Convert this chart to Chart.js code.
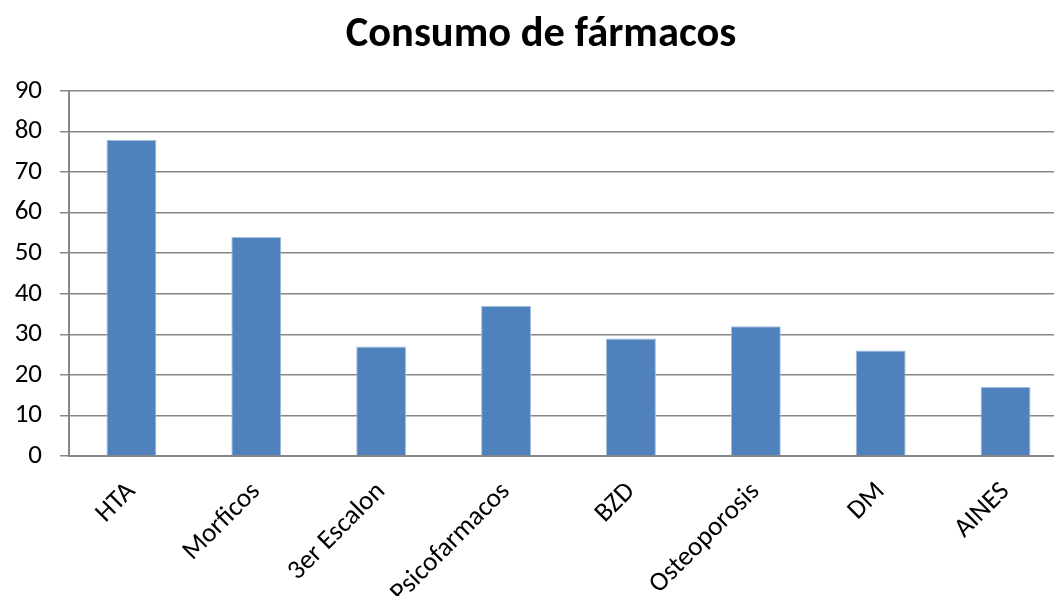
<!DOCTYPE html>
<html>
<head>
<meta charset="utf-8">
<script src="https://cdn.jsdelivr.net/npm/chart.js@4/dist/chart.umd.min.js"></script>
<style>
  html, body { margin: 0; padding: 0; background: #fff; overflow: hidden; }
  #chart { display: block; }
</style>
</head>
<body>
<!-- canvas is a little wider than the window: the plot runs past the right edge, as in the original crop -->
<canvas id="chart" width="1068" height="596"></canvas>
<script>
// data
const categories = ['HTA', 'Morficos', '3er Escalon', 'Psicofarmacos', 'BZD', 'Osteoporosis', 'DM', 'AINES'];
const consumo = [78, 54, 27, 37, 29, 32, 26, 17];
const yTicks = [0, 10, 20, 30, 40, 50, 60, 70, 80, 90];

const gridGrey = '#868686';
const font = "Carlito, 'Open Sans', 'Liberation Sans', sans-serif";

const chart = new Chart(document.getElementById('chart'), {
    type: 'bar',
    data: {
        labels: categories,
        datasets: [
            {
                label: 'Consumo',
                data: consumo,
                backgroundColor: '#4f81bd',
                borderColor: '#a7bfde',
                borderWidth: { top: 1, left: 1, right: 1, bottom: 0 },
                categoryPercentage: 1,
                barPercentage: 0.4,
            }
        ]
    },
    options: {
        responsive: false,
        animation: false,
        layout: {
            padding: { left: 14, right: 0, top: 0, bottom: 0 }
        },
        plugins: {
            legend: { display: false },
            tooltip: { enabled: false },
            title: {
                display: true,
                text: 'Consumo de fármacos',
                color: '#000',
                font: { family: font, size: 42.5, weight: 'bold' },
                padding: { top: 10, bottom: 30 }
            }
        },
        scales: {
            x: {
                grid: { display: false },
                border: { display: true, color: gridGrey, width: 2 },
                ticks: {
                    color: '#000',
                    font: { family: font, size: 27 },
                    minRotation: 45,
                    maxRotation: 45,
                    padding: 12
                },
                afterFit: scale => { scale.height = 140; }
            },
            y: {
                min: 0,
                max: 90,
                afterBuildTicks: scale => {
                    scale.ticks = yTicks.map(v => ({ value: v }));
                },
                grid: {
                    color: gridGrey,
                    lineWidth: 1.5,
                    tickLength: 9,
                    drawTicks: true
                },
                border: { display: true, color: gridGrey, width: 2 },
                ticks: {
                    color: '#000',
                    font: { family: font, size: 27 },
                    padding: 18
                },
                afterFit: scale => { scale.width = 55; }
            }
        }
    }
});
</script>
</body>
</html>
